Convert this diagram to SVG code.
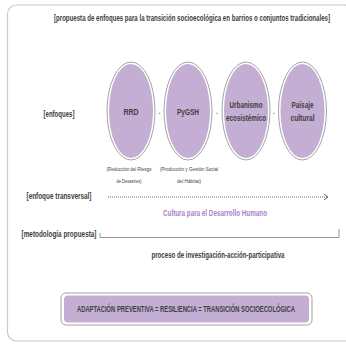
<svg xmlns="http://www.w3.org/2000/svg" width="346" height="345" viewBox="0 0 346 345">
<style>
.t{font-family:"Liberation Sans",Arial,sans-serif;fill:#404040;font-weight:bold;font-size:5.6px;text-anchor:middle}
.sm{font-weight:normal;font-size:4.2px}
.ring{fill:#ffffff;stroke:#8c8c8c;stroke-width:0.8}
.fill{fill:#c4aed4}
.pu{fill:#a983c9}
</style>
<defs>
<marker id="arr" markerWidth="8" markerHeight="8" refX="5" refY="3" orient="auto" markerUnits="userSpaceOnUse">
<path d="M1,0 L5,3 L1,6" fill="none" stroke="#404040" stroke-width="0.8"/>
</marker>
</defs>
<rect x="7.5" y="5" width="346" height="336" rx="9" fill="#ffffff" stroke="#c8c8c8" stroke-width="1.2"/>
<text class="t" transform="translate(192,20.5) scale(1,1.6)" textLength="276" lengthAdjust="spacingAndGlyphs">[propuesta de enfoques para la transición socioecológica en barrios o conjuntos tradicionales]</text>
<text class="t" transform="translate(59,116.5) scale(1,1.6)" textLength="31" lengthAdjust="spacingAndGlyphs">[enfoques]</text>
<g id="rrd">
<ellipse class="ring" cx="131" cy="111" rx="24" ry="49"/>
<ellipse class="fill" cx="131" cy="111" rx="22" ry="47"/>
<text class="t" transform="translate(131,115) scale(1,1.6)" textLength="15" lengthAdjust="spacingAndGlyphs">RRD</text>
</g>
<g id="pygsh">
<ellipse class="ring" cx="188" cy="111" rx="24" ry="49"/>
<ellipse class="fill" cx="188" cy="111" rx="22" ry="47"/>
<text class="t" transform="translate(188,114.5) scale(1,1.6)" textLength="22" lengthAdjust="spacingAndGlyphs">PyGSH</text>
</g>
<g id="urbanismo">
<ellipse class="ring" cx="246" cy="111" rx="24" ry="49"/>
<ellipse class="fill" cx="246" cy="111" rx="22" ry="47"/>
<text class="t" transform="translate(246,108) scale(1,1.6)" textLength="33" lengthAdjust="spacingAndGlyphs">Urbanismo</text>
<text class="t" transform="translate(246,121) scale(1,1.6)" textLength="40" lengthAdjust="spacingAndGlyphs">ecosistémico</text>
</g>
<g id="paisaje">
<ellipse class="ring" cx="302.5" cy="111" rx="24" ry="49"/>
<ellipse class="fill" cx="302.5" cy="111" rx="22" ry="47"/>
<text class="t" transform="translate(302.5,108) scale(1,1.6)" textLength="22" lengthAdjust="spacingAndGlyphs">Paisaje</text>
<text class="t" transform="translate(302.5,121) scale(1,1.6)" textLength="24" lengthAdjust="spacingAndGlyphs">cultural</text>
</g>
<g id="plus">
<text class="t sm" x="159.5" y="113.5" font-size="5.5">+</text>
<text class="t sm" x="217" y="113.5" font-size="5.5">+</text>
<text class="t sm" x="274" y="113.5" font-size="5.5">+</text>
</g>
<g id="sub">
<text class="t sm" transform="translate(129,170.5) scale(1,1.45)" textLength="45" lengthAdjust="spacingAndGlyphs">(Reducción del Riesgo</text>
<text class="t sm" transform="translate(129,182.5) scale(1,1.45)" textLength="25" lengthAdjust="spacingAndGlyphs">de Desastres)</text>
<text class="t sm" transform="translate(189,170.5) scale(1,1.45)" textLength="58" lengthAdjust="spacingAndGlyphs">(Producción y Gestión Social</text>
<text class="t sm" transform="translate(189,182.5) scale(1,1.45)" textLength="24" lengthAdjust="spacingAndGlyphs">del Hábitat)</text>
</g>
<text class="t" transform="translate(59,199) scale(1,1.6)" textLength="65" lengthAdjust="spacingAndGlyphs">[enfoque transversal]</text>
<g id="connectors">
<line x1="108" y1="197" x2="328" y2="197" stroke="#404040" stroke-width="0.8" stroke-dasharray="1,1" marker-end="url(#arr)"/>
<path d="M100,233 V237.5 H339 V229" fill="none" stroke="#8c8c8c" stroke-width="0.9"/>
</g>
<text class="t pu" transform="translate(215,215.5) scale(1,1.6)" textLength="104" lengthAdjust="spacingAndGlyphs">Cultura para el Desarrollo Humano</text>
<text class="t" transform="translate(59,236.5) scale(1,1.6)" textLength="75" lengthAdjust="spacingAndGlyphs">[metodología propuesta]</text>
<text class="t" transform="translate(218,257.5) scale(1,1.6)" textLength="133" lengthAdjust="spacingAndGlyphs">proceso de investigación-acción-participativa</text>
<g id="resultado">
<rect x="61" y="293" width="251" height="32" rx="5" fill="#ffffff" stroke="#8c8c8c" stroke-width="0.8"/>
<rect x="64" y="295.5" width="245" height="27" rx="4" fill="#c4aed4"/>
<text class="t" transform="translate(186,311.5) scale(1,1.6)" textLength="218" lengthAdjust="spacingAndGlyphs">ADAPTACIÓN PREVENTIVA = RESILIENCIA = TRANSICIÓN SOCIOECOLÓGICA</text>
</g>
</svg>
